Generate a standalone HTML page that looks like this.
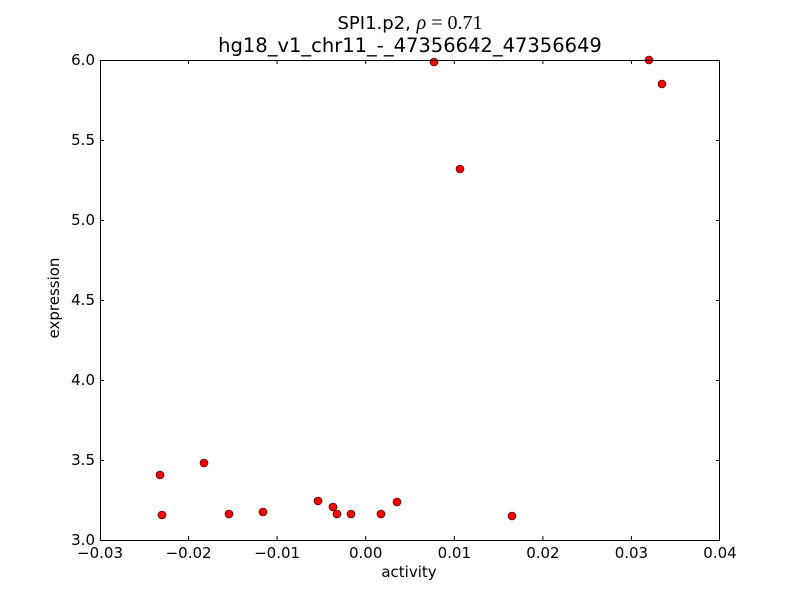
<!DOCTYPE html>
<html><head><meta charset="utf-8"><style>body{margin:0;background:#fff}</style></head><body>
<svg width="800" height="600" xmlns="http://www.w3.org/2000/svg" font-family="DejaVu Sans, Liberation Sans, sans-serif">
<rect width="800" height="600" fill="#fff"/>
<g stroke="#000" stroke-width="1">
<path d="M100.5,540v-4M188.6,540v-4M277.1,540v-4M365.7,540v-4M454.3,540v-4M542.9,540v-4M631.4,540v-4M719.5,540v-4
M100.5,60v4M188.6,60v4M277.1,60v4M365.7,60v4M454.3,60v4M542.9,60v4M631.4,60v4M719.5,60v4
M100,540.5h4M100,460.5h4M100,380.5h4M100,300.5h4M100,220.5h4M100,140.5h4M100,60.5h4
M720,540.5h-4M720,460.5h-4M720,380.5h-4M720,300.5h-4M720,220.5h-4M720,140.5h-4M720,60.5h-4"/>
</g>
<g fill="#f00" stroke="#000" stroke-width="0.6">
<circle cx="160" cy="475" r="4"/><circle cx="162" cy="515" r="4"/><circle cx="204" cy="463" r="4"/>
<circle cx="229" cy="514" r="4"/><circle cx="263" cy="512" r="4"/><circle cx="318" cy="501" r="4"/>
<circle cx="333" cy="507" r="4"/><circle cx="337" cy="514" r="4"/><circle cx="351" cy="514" r="4"/>
<circle cx="381" cy="514" r="4"/><circle cx="397" cy="502" r="4"/><circle cx="434" cy="62" r="4"/>
<circle cx="460" cy="169" r="4"/><circle cx="512" cy="516" r="4"/><circle cx="649" cy="60" r="4"/>
<circle cx="662" cy="84" r="4"/>
</g>
<rect x="100.5" y="60.5" width="619" height="480" fill="none" stroke="#000" stroke-width="1"/>
<g font-size="15" fill="#000" text-anchor="middle">
<text x="100" y="558">−0.03</text><text x="188.6" y="558">−0.02</text><text x="277.1" y="558">−0.01</text>
<text x="365.7" y="558">0.00</text><text x="454.3" y="558">0.01</text><text x="542.9" y="558">0.02</text>
<text x="631.4" y="558">0.03</text><text x="720" y="558">0.04</text>
<text x="409" y="577">activity</text>
<text x="410" y="29" font-size="18">SPI1.p2, <tspan font-family="Liberation Serif, serif" font-style="italic" font-size="20">ρ</tspan><tspan font-family="Liberation Serif, serif" font-size="20"> = 0.71</tspan></text>
<text x="410" y="52" font-size="19.5">hg18_v1_chr11_-_47356642_47356649</text>
</g>
<g font-size="15" fill="#000" text-anchor="end">
<text x="95" y="545">3.0</text><text x="95" y="465">3.5</text><text x="95" y="385">4.0</text>
<text x="95" y="305">4.5</text><text x="95" y="225">5.0</text><text x="95" y="145">5.5</text><text x="95" y="65">6.0</text>
</g>
<text x="59" y="298" font-size="15" text-anchor="middle" transform="rotate(-90 59 298)">expression</text>
</svg>
</body></html>
